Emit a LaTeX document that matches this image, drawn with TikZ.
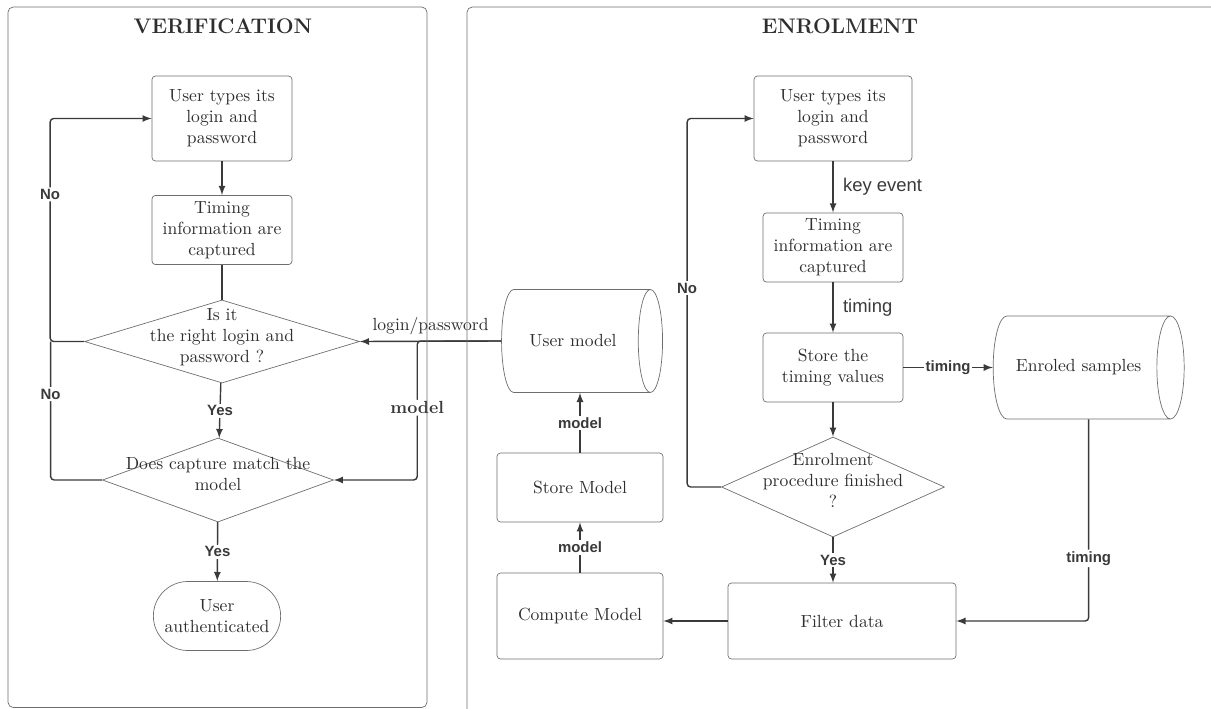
\documentclass[tikz,border=0pt]{standalone}
\usepackage{fontspec}
\setsansfont{Liberation Sans}
\usetikzlibrary{shapes.geometric, shapes.misc, arrows}
\usetikzlibrary{positioning}
\definecolor{boxgray}{HTML}{6E6E6E}
\definecolor{linegray}{HTML}{3A3A3A}
\definecolor{textgray}{HTML}{2E2E2E}
\tikzstyle{process}  = [rectangle, rounded corners=2pt, minimum width=2.8cm, minimum height=1.38cm, text centered, align=center, draw=boxgray, text=textgray]
\tikzstyle{decision} = [diamond, inner sep=0pt, draw=boxgray, text=textgray]
\tikzstyle{terminal} = [rounded rectangle, minimum width=2.78cm, minimum height=1.38cm, align=center, draw=boxgray, text=textgray]
\tikzstyle{database} = [cylinder, aspect=1, draw=boxgray, text=textgray, minimum width=2.06cm]
\tikzstyle{title}    = [font=\large\bfseries, text=textgray]
\tikzstyle{arrow}    = [thick,->,>=latex, draw=linegray]
\tikzstyle{link}     = [thick, draw=linegray]
\tikzstyle{lbl}      = [font=\sffamily\bfseries\fontsize{8.5}{10}\selectfont, text=linegray, fill=white, inner sep=1pt]
\tikzstyle{flow}     = [font=\sffamily\fontsize{10.5}{12}\selectfont, text=linegray]
\tikzstyle{panel}    = [draw=boxgray, rounded corners=3pt]

\begin{document}
\begin{tikzpicture}[node distance=2cm]
\useasboundingbox (0,0) rectangle (24.22,-14.18);
% verification side
\node (vtitle) [title] at (4.46,-0.52) {VERIFICATION};
\node (v1) [process, minimum height=1.7cm] at (4.44,-2.37) {User types its\\login and\\password};
\node (v2) [process, below of=v1, yshift=-0.23cm] {Timing\\information are\\captured};
\node (d1) [decision, below of=v2, yshift=-0.23cm, aspect=3.3, minimum width=5.5cm, minimum height=1.66cm] {\smash{\begin{tabular}{@{}c@{}}Is it\\the right login and\\password ?\end{tabular}}};
\node (d2) [decision, below of=d1, yshift=-0.77cm, xshift=-0.08cm, aspect=2.75, minimum width=4.62cm, minimum height=1.68cm] {\smash{\begin{tabular}{@{}c@{}}Does capture match the\\model\end{tabular}}};
\node (auth) [terminal, below of=d2, yshift=-0.72cm, xshift=-0.02cm] {User\\authenticated};

% enrolment side
\node (etitle) [title] at (16.8,-0.52) {ENROLMENT};
\node (e1) [process, minimum width=3.16cm, minimum height=1.7cm] at (16.66,-2.37) {User types its\\login and\\password};
\node (e2) [process, below of=e1, yshift=-0.58cm] {Timing\\information are\\captured};
\node (e3) [process, below of=e2, yshift=-0.4cm] {Store the\\timing values};
\node (e4) [decision, below of=e3, yshift=-0.39cm, aspect=2.23, minimum width=4.46cm, minimum height=2cm] {\smash{\begin{tabular}{@{}c@{}}Enrolment\\procedure finished\\?\end{tabular}}};
\node (filt) [process, below of=e4, yshift=-0.68cm, xshift=0.18cm, minimum width=4.56cm, minimum height=1.52cm] {Filter data};
\node (comp) [process, left of=filt, xshift=-3.24cm, yshift=0.1cm, minimum width=3.32cm, minimum height=1.72cm] {Compute Model};
\node (store) [process, above of=comp, yshift=0.57cm, minimum width=3.32cm] {Store Model};
\node (um) [database, above of=store, yshift=0.93cm, xshift=-0.14cm, minimum height=3.22cm] {User model};
\node (es) [database, right of=e3, xshift=2.91cm, minimum height=3.82cm] {Enroled samples};

% verification connectors
\draw [arrow] (v1) -- (v2);
\draw [link] (v2) -- (d1);
\draw [arrow] (d1) -- node[lbl] {Yes} (d2);
\draw [arrow] (d2) -- node[lbl] {Yes} (auth);
\draw [arrow, rounded corners=2pt] (d1.west) -- ++(-0.68,0) |- node[lbl, pos=0.33] {No} (v1.west);
\draw [link, rounded corners=2pt] (d2.west) -- ++(-1.03,0) -- node[lbl, pos=0.62] {No} ++(0,2.77);
\draw [arrow] (um.west) -- node[above, text=textgray] {login/password} (d1.east);
\draw [arrow, rounded corners=2pt] (um.west) -- ++(-1.68,0) |- node[pos=0.24, fill=white, inner sep=1pt, font=\bfseries, text=linegray] {model} (d2.east);

% enrolment connectors
\draw [arrow] (e1) -- node[flow, right, xshift=2pt] {key event} (e2);
\draw [arrow] (e2) -- node[flow, right, xshift=2pt] {timing} (e3);
\draw [arrow] (e3) -- node[lbl] {timing} (es);
\draw [arrow] (e3) -- (e4);
\draw [arrow] (e4.south) -- node[lbl] {Yes} (e4.south |- filt.north);
\draw [arrow, rounded corners=2pt] (e4.west) -- ++(-0.68,0) |- node[lbl, pos=0.27] {No} (e1.west);
\draw [arrow, rounded corners=2pt] (es.shape center |- es.south) |- node[lbl, pos=0.345] {timing} (filt.east);
\draw [arrow] (filt.west) -- (filt.west -| comp.east);
\draw [arrow] (comp) -- node[lbl] {model} (store);
\draw [arrow] (store.north) -- node[lbl] {model} (store.north |- um.south);

% panels
\draw [panel] (0.16,-0.14) rectangle (8.54,-14.15);
\draw [panel] (9.34,-0.14) rectangle (24.6,-14.3);
\end{tikzpicture}
\end{document}
